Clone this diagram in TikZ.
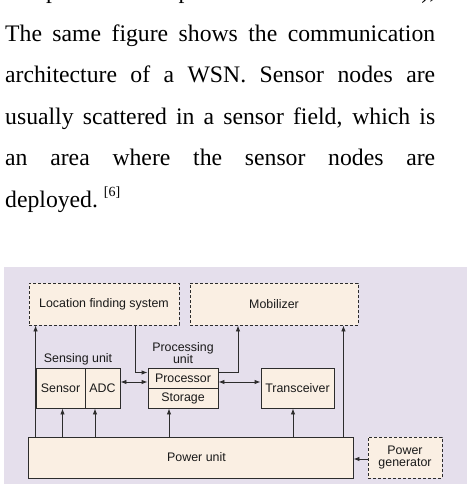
\documentclass[tikz,border=0pt]{standalone}
\usepackage{fontspec}
\setmainfont{Liberation Serif}
\newfontfamily\diagfont{Liberation Sans}
\usetikzlibrary{arrows.meta,calc}
\definecolor{bgl}{HTML}{E5DFEC}
\definecolor{boxf}{HTML}{FAEFE3}
\definecolor{ln}{HTML}{2C2C2C}
\begin{document}
\begin{tikzpicture}[x=1pt,y=-1pt,
  dfont/.style={font=\diagfont\fontsize{12.4}{12}\selectfont},
  box/.style={draw=ln, fill=boxf, line width=0.9pt, inner sep=0pt, dfont, align=center, text=black!90},
  dbox/.style={box, dash pattern=on 3pt off 2pt},
  lbl/.style={dfont, inner sep=0pt, align=center, text=black!90},
  arr/.style={draw=ln, line width=0.9pt, -{Latex[length=6pt,width=4.5pt]}},
  arr2/.style={draw=ln, line width=0.9pt, {Latex[length=6pt,width=4.5pt]}-{Latex[length=6pt,width=4.5pt]}},
  para/.style={anchor=base west, inner sep=0pt, font=\fontsize{23.7}{28}\selectfont}]
\useasboundingbox (0,0) rectangle (470,484);
\fill[bgl] (4,267) rectangle (467,484);
% paragraph
\begin{scope}
\clip (0,0) rectangle (470,484);
\node[para] (l0) at (5,-1.5) {\makebox[430pt][s]{components are special like the mobilizer),}};
\end{scope}
\node[para] (l1) at (5,41.5) {\makebox[430pt][s]{The same figure shows the communication}};
\node[para] (l2) at (5,82.9) {\makebox[430pt][s]{architecture of a WSN. Sensor nodes are}};
\node[para] (l3) at (5,124.3) {\makebox[430pt][s]{usually scattered in a sensor field, which is}};
\node[para] (l4) at (5,165.7) {\makebox[430pt][s]{an area where the sensor nodes are}};
\node[para] (l5) at (5,207.1) {deployed.\ \raisebox{11pt}{\fontsize{14}{14}\selectfont[6]}};
% boxes
\node[dbox, minimum width=150pt, minimum height=42pt] (loc) at (104,304) {Location finding system};
\node[dbox, minimum width=168pt, minimum height=42pt] (mob) at (274,304) {Mobilizer};
\node[box, minimum width=49pt, minimum height=40pt] (sensor) at (60.5,388) {Sensor};
\node[box, minimum width=35pt, minimum height=40pt] (adc) at (102.5,388) {ADC};
\node[box, minimum width=70pt, minimum height=20pt] (proc) at (183,378) {Processor};
\node[box, minimum width=70pt, minimum height=20pt] (stor) at (183,398) {Storage};
\node[box, minimum width=73pt, minimum height=40pt] (trans) at (297.5,388) {Transceiver};
\node[box, minimum width=325pt, minimum height=41pt] (power) at (190.5,457.5) {\hspace*{12pt}Power unit};
\node[dbox, minimum width=74pt, minimum height=41pt] (gen) at (405,457.5) {Power\\generator};
% labels
\node[lbl] (slbl) at (78,359) {Sensing unit};
\node[lbl] (plbl) at (183,353) {Processing\\unit};
% connectors
\draw[arr] (power.north -| sensor.west) -- (loc.south -| sensor.west);
\coordinate (s1) at ($(sensor.south)+(2,0)$);
\draw[arr] (power.north -| s1) -- (s1);
\coordinate (a1) at ($(adc.south)+(-7.5,0)$);
\draw[arr] (power.north -| a1) -- (a1);
\coordinate (st1) at ($(stor.south)+(-14,0)$);
\draw[arr] (power.north -| st1) -- (st1);
\coordinate (t1) at ($(trans.south)+(-4.5,0)$);
\draw[arr] (power.north -| t1) -- (t1);
\coordinate (m1) at ($(mob.south east)+(-15,0)$);
\draw[arr] (power.north -| m1) -- (m1);
\draw[arr] ($(loc.south)+(31,0)$) |- ($(proc.west)+(0,-5.5)$);
\draw[arr2] ($(adc.east)+(0,-6)$) -- ($(proc.west |- adc.east)+(0,-6)$);
\draw[arr] ($(proc.east)+(0,-5.5)$) -| ($(mob.south)+(-36,0)$);
\draw[arr2] ($(proc.east |- trans.west)+(0,-6)$) -- ($(trans.west)+(0,-6)$);
\draw[arr] ($(gen.west)+(0,1.5)$) -- ($(gen.west -| power.east)+(0,1.5)$);
\end{tikzpicture}
\end{document}
